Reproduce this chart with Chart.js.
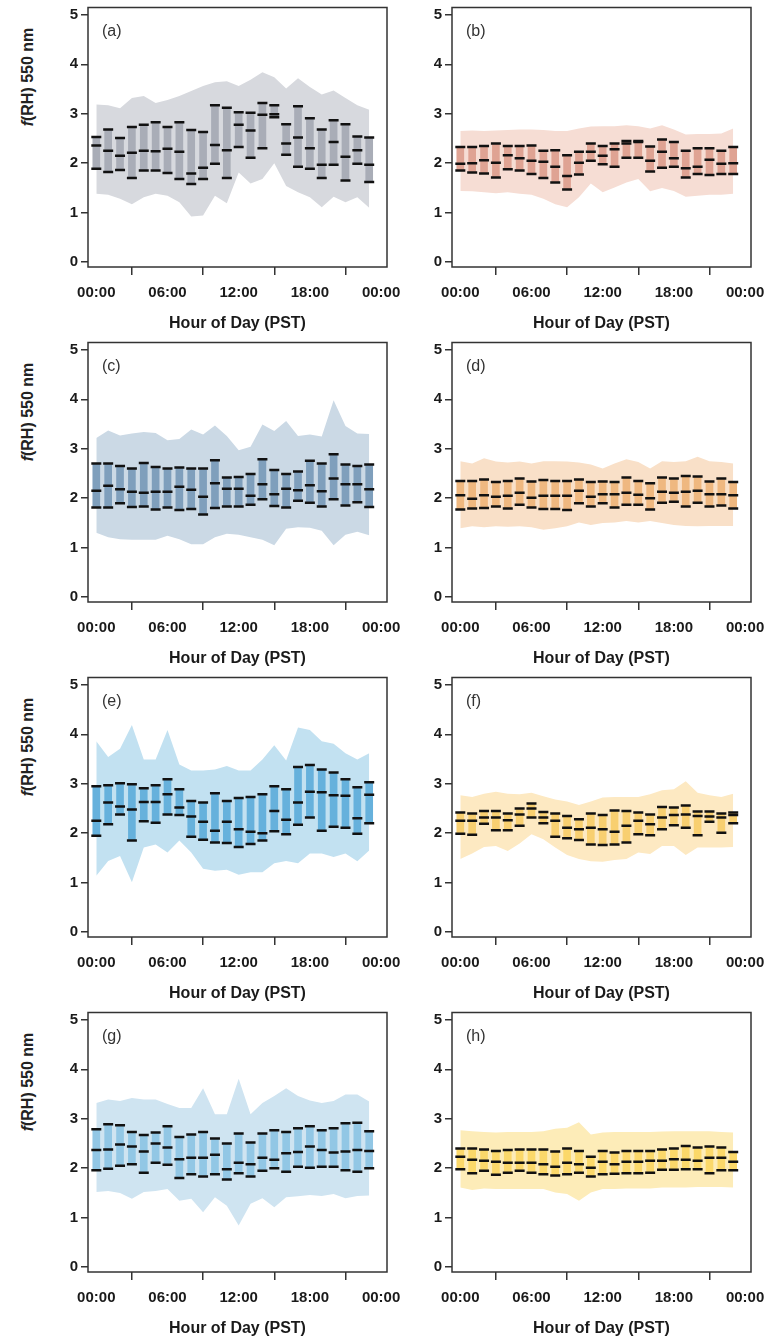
<!DOCTYPE html>
<html>
<head>
<meta charset="utf-8">
<script src="https://cdn.jsdelivr.net/npm/chart.js@4.4.0/dist/chart.umd.min.js"></script>
<style>
  body { margin: 0; background: #fff; width: 767px; height: 1339px; position: relative; overflow: hidden; }
  canvas { position: absolute; }
  .ylab { position: absolute; font: bold 16px "Liberation Sans", Arial, sans-serif; color: #222;
          white-space: nowrap; transform: translate(-50%, -50%) rotate(-90deg); }
</style>
</head>
<body>
<script>
// hours of day (bar positions) and axis ticks
const hours = [0,1,2,3,4,5,6,7,8,9,10,11,12,13,14,15,16,17,18,19,20,21,22,23];
const yTicks = [0, 1, 2, 3, 4, 5];
const xTicks = [0, 6, 12, 18, 24];
const xTickLabels = ['00:00', '06:00', '12:00', '18:00', '00:00'];

// (a)
const a_q75 = [2.53,2.68,2.51,2.73,2.78,2.83,2.73,2.83,2.67,2.63,3.17,3.12,3.03,3.02,3.22,3.17,2.79,3.15,2.91,2.68,2.87,2.79,2.54,2.52];
const a_med = [2.36,2.25,2.15,2.21,2.25,2.24,2.29,2.23,1.79,1.91,2.37,2.26,2.78,2.66,2.98,2.99,2.40,2.52,2.30,1.97,2.43,2.13,2.26,1.97];
const a_q25 = [1.89,1.82,1.86,1.70,1.85,1.85,1.80,1.68,1.58,1.68,1.99,1.70,2.33,2.11,2.30,2.93,2.17,1.93,1.89,1.70,1.97,1.65,1.99,1.62];
const a_max = [3.19,3.17,3.11,3.32,3.36,3.22,3.28,3.36,3.46,3.56,3.64,3.66,3.56,3.69,3.84,3.74,3.51,3.72,3.54,3.39,3.47,3.32,3.17,3.08];
const a_min = [1.38,1.36,1.28,1.17,1.31,1.38,1.34,1.21,0.92,0.94,1.34,1.19,1.81,1.59,1.68,2.00,1.54,1.41,1.31,1.11,1.32,1.21,1.31,1.10];

// (b)
const b_q75 = [2.33,2.33,2.35,2.40,2.35,2.35,2.36,2.25,2.26,2.16,2.23,2.40,2.35,2.40,2.45,2.45,2.34,2.48,2.43,2.25,2.30,2.30,2.25,2.33];
const b_med = [1.99,2.00,2.06,2.01,2.16,2.10,2.05,2.03,1.93,1.74,2.01,2.23,2.15,2.28,2.40,2.43,2.05,2.23,2.10,1.90,1.93,2.07,1.99,2.00];
const b_q25 = [1.85,1.81,1.79,1.71,1.88,1.85,1.78,1.70,1.61,1.47,1.77,2.05,1.98,1.93,2.11,2.11,1.83,1.91,1.93,1.71,1.78,1.76,1.78,1.78];
const b_max = [2.65,2.66,2.65,2.66,2.67,2.68,2.68,2.67,2.65,2.65,2.70,2.74,2.75,2.75,2.77,2.75,2.70,2.77,2.68,2.58,2.59,2.59,2.60,2.70];
const b_min = [1.44,1.43,1.41,1.39,1.41,1.38,1.36,1.28,1.17,1.11,1.31,1.59,1.41,1.51,1.61,1.68,1.43,1.50,1.44,1.32,1.34,1.36,1.36,1.38];

// (c)
const c_q75 = [2.70,2.70,2.65,2.60,2.71,2.63,2.60,2.62,2.60,2.60,2.77,2.42,2.43,2.49,2.79,2.57,2.49,2.54,2.76,2.70,2.89,2.68,2.65,2.68];
const c_med = [2.15,2.25,2.18,2.13,2.11,2.13,2.13,2.23,2.17,2.03,2.30,2.19,2.19,2.05,2.28,2.08,2.19,2.16,2.26,2.14,2.40,2.28,2.28,2.18];
const c_q25 = [1.81,1.81,1.90,1.82,1.83,1.77,1.81,1.76,1.78,1.67,1.80,1.83,1.83,1.87,1.98,1.84,1.81,1.95,1.91,1.83,1.98,1.85,1.92,1.82];
const c_max = [3.22,3.37,3.27,3.31,3.34,3.32,3.17,3.20,3.39,3.29,3.47,3.26,2.97,3.04,3.49,3.36,3.56,3.26,3.29,3.25,3.98,3.46,3.31,3.30];
const c_min = [1.30,1.21,1.17,1.16,1.16,1.16,1.24,1.17,1.07,1.07,1.21,1.28,1.26,1.21,1.16,1.05,1.38,1.41,1.40,1.34,1.05,1.26,1.32,1.25];

// (d)
const d_q75 = [2.35,2.35,2.38,2.33,2.35,2.40,2.34,2.37,2.35,2.35,2.38,2.33,2.34,2.33,2.42,2.35,2.30,2.42,2.40,2.45,2.44,2.34,2.40,2.33];
const d_med = [2.06,1.99,2.06,2.03,2.05,2.11,2.01,2.05,2.05,2.05,2.15,2.03,2.08,2.08,2.11,2.07,2.00,2.13,2.11,2.13,2.15,2.08,2.08,2.06];
const d_q25 = [1.77,1.79,1.80,1.83,1.79,1.87,1.81,1.78,1.78,1.76,1.90,1.83,1.90,1.81,1.87,1.87,1.77,1.91,1.93,1.83,1.91,1.83,1.85,1.79];
const d_max = [2.75,2.70,2.81,2.74,2.72,2.74,2.70,2.75,2.75,2.74,2.72,2.68,2.60,2.70,2.79,2.73,2.60,2.75,2.73,2.75,2.84,2.75,2.73,2.70];
const d_min = [1.39,1.43,1.41,1.43,1.42,1.43,1.41,1.36,1.39,1.43,1.51,1.46,1.50,1.51,1.54,1.51,1.54,1.50,1.46,1.44,1.43,1.44,1.44,1.44];

// (e)
const e_q75 = [2.95,2.97,3.01,2.99,2.91,2.97,3.09,2.89,2.65,2.62,2.81,2.65,2.71,2.73,2.79,2.95,2.89,3.34,3.38,3.29,3.23,3.09,2.93,3.03];
const e_med = [2.25,2.62,2.54,2.48,2.63,2.63,2.79,2.52,2.34,2.23,2.05,2.23,2.08,2.03,2.00,2.45,2.27,2.62,2.84,2.83,2.77,2.76,2.30,2.78];
const e_q25 = [1.95,2.18,2.38,1.85,2.24,2.21,2.38,2.37,1.93,1.87,1.81,1.80,1.72,1.78,1.85,2.04,1.98,2.17,2.32,2.05,2.13,2.11,1.99,2.20];
const e_max = [3.86,3.54,3.71,4.19,3.49,3.49,4.09,3.39,3.27,3.27,3.29,3.36,3.27,3.27,3.49,3.78,3.47,4.14,4.09,3.86,3.81,3.62,3.49,3.62];
const e_min = [1.14,1.44,1.54,1.01,1.71,1.77,1.61,1.85,1.61,1.28,1.24,1.26,1.16,1.21,1.21,1.39,1.44,1.39,1.59,1.59,1.52,1.59,1.43,1.65];

// (f)
const f_q75 = [2.42,2.40,2.45,2.45,2.40,2.50,2.60,2.43,2.40,2.35,2.28,2.40,2.37,2.46,2.45,2.42,2.38,2.53,2.52,2.56,2.44,2.44,2.40,2.42];
const f_med = [2.25,2.25,2.32,2.32,2.26,2.38,2.50,2.32,2.25,2.11,2.08,2.11,2.08,2.03,2.15,2.25,2.18,2.32,2.37,2.38,2.35,2.34,2.32,2.37];
const f_q25 = [1.99,1.97,2.19,2.06,2.06,2.15,2.32,2.20,1.93,1.90,1.86,1.77,1.76,1.77,1.81,1.98,1.96,2.08,2.16,2.11,1.96,2.23,2.01,2.20];
const f_max = [2.77,2.73,2.80,2.84,2.80,2.79,2.82,2.75,2.68,2.64,2.57,2.64,2.72,2.73,2.73,2.73,2.79,2.87,2.89,3.05,2.82,2.77,2.73,2.80];
const f_min = [1.48,1.59,1.72,1.74,1.64,1.79,1.98,1.88,1.71,1.56,1.48,1.43,1.42,1.46,1.48,1.61,1.58,1.74,1.74,1.56,1.71,1.71,1.71,1.72];

// (g)
const g_q75 = [2.79,2.89,2.87,2.73,2.67,2.72,2.85,2.63,2.68,2.73,2.60,2.50,2.70,2.52,2.70,2.77,2.73,2.81,2.85,2.77,2.81,2.91,2.92,2.75];
const g_med = [2.37,2.38,2.48,2.44,2.34,2.50,2.42,2.18,2.21,2.21,2.27,1.98,2.11,2.08,2.21,2.17,2.30,2.33,2.44,2.37,2.32,2.34,2.37,2.35];
const g_q25 = [1.96,1.99,2.05,2.08,1.91,2.11,2.07,1.80,1.88,1.83,1.88,1.77,1.90,1.83,1.95,2.00,1.93,2.03,2.01,2.03,2.03,1.96,1.93,2.00];
const g_max = [3.32,3.39,3.36,3.42,3.39,3.39,3.30,3.22,3.22,3.62,3.09,3.09,3.81,3.09,3.32,3.46,3.62,3.46,3.37,3.32,3.36,3.49,3.49,3.35];
const g_min = [1.52,1.54,1.50,1.38,1.52,1.54,1.58,1.34,1.38,1.11,1.41,1.24,0.84,1.28,1.39,1.21,1.41,1.43,1.46,1.44,1.48,1.39,1.44,1.45];

// (h)
const h_q75 = [2.40,2.40,2.38,2.35,2.37,2.38,2.38,2.38,2.34,2.40,2.35,2.23,2.35,2.32,2.35,2.35,2.35,2.38,2.40,2.45,2.42,2.44,2.42,2.33];
const h_med = [2.23,2.17,2.15,2.13,2.11,2.11,2.11,2.08,2.03,2.11,2.08,2.01,2.13,2.08,2.13,2.13,2.15,2.15,2.18,2.17,2.15,2.21,2.21,2.13];
const h_q25 = [1.98,1.90,1.95,1.87,1.91,1.95,1.91,1.88,1.85,1.88,1.91,1.83,1.88,1.89,1.90,1.90,1.91,1.97,1.97,1.98,1.98,1.90,1.96,1.96];
const h_max = [2.77,2.75,2.73,2.72,2.73,2.73,2.73,2.75,2.80,2.82,2.93,2.68,2.72,2.73,2.73,2.73,2.73,2.74,2.75,2.75,2.75,2.75,2.73,2.72];
const h_min = [1.61,1.56,1.59,1.58,1.58,1.58,1.58,1.58,1.51,1.48,1.34,1.51,1.58,1.58,1.59,1.59,1.59,1.61,1.61,1.61,1.62,1.62,1.62,1.61];

const panels = [
  { tag: 'a', row: 0, col: 0, q75: a_q75, med: a_med, q25: a_q25, max: a_max, min: a_min, band: '#d7d9de', bar: '#a9adb7' },
  { tag: 'b', row: 0, col: 1, q75: b_q75, med: b_med, q25: b_q25, max: b_max, min: b_min, band: '#f6ddd4', bar: '#dfa393' },
  { tag: 'c', row: 1, col: 0, q75: c_q75, med: c_med, q25: c_q25, max: c_max, min: c_min, band: '#cbd9e5', bar: '#7f9fbc' },
  { tag: 'd', row: 1, col: 1, q75: d_q75, med: d_med, q25: d_q25, max: d_max, min: d_min, band: '#f9e0c8', bar: '#efb880' },
  { tag: 'e', row: 2, col: 0, q75: e_q75, med: e_med, q25: e_q25, max: e_max, min: e_min, band: '#c2e1f1', bar: '#66b1dc' },
  { tag: 'f', row: 2, col: 1, q75: f_q75, med: f_med, q25: f_q25, max: f_max, min: f_min, band: '#fde9c2', bar: '#f8cf70' },
  { tag: 'g', row: 3, col: 0, q75: g_q75, med: g_med, q25: g_q25, max: g_max, min: g_min, band: '#cfe4f1', bar: '#92c7e5' },
  { tag: 'h', row: 3, col: 1, q75: h_q75, med: h_med, q25: h_q25, max: h_max, min: h_min, band: '#fdecb8', bar: '#fbd86a' }
];

Chart.defaults.font.family = '"Liberation Sans", Arial, sans-serif';
Chart.defaults.color = '#1a1a1a';

const FONT_TICK = { size: 15, weight: 'bold' };
const FONT_TITLE = { size: 16, weight: 'bold' };

// box around the plot area
const framePlugin = {
  id: 'frame',
  afterDraw(chart) {
    const { ctx, chartArea: { left, top, right, bottom } } = chart;
    ctx.save();
    ctx.strokeStyle = '#333';
    ctx.lineWidth = 1.5;
    ctx.strokeRect(left, top, right - left, bottom - top);
    ctx.restore();
  }
};

// "(a)" style tag in the top left corner
const tagPlugin = {
  id: 'panelTag',
  afterDraw(chart, args, opts) {
    const { ctx, chartArea: { left, top } } = chart;
    ctx.save();
    ctx.font = '16px "Liberation Sans", Arial, sans-serif';
    ctx.fillStyle = '#333';
    ctx.textBaseline = 'middle';
    ctx.fillText(opts.text, left + 14, top + 24);
    ctx.restore();
  }
};

const pts = arr => arr.map((v, i) => ({ x: hours[i], y: v }));

function dashSet(arr) {
  return {
    type: 'line', data: pts(arr), showLine: false, order: 1,
    pointStyle: 'line', pointRadius: 5, pointBorderWidth: 2.5,
    pointBorderColor: '#111', pointBackgroundColor: '#111'
  };
}

panels.forEach(p => {
  const cv = document.createElement('canvas');
  cv.width = 364;
  cv.height = 335;
  cv.style.left = (p.col === 0 ? 38 : 402) + 'px';
  cv.style.top = (p.row * 335) + 'px';
  document.body.appendChild(cv);

  if (p.col === 0) {
    const lab = document.createElement('div');
    lab.className = 'ylab';
    lab.innerHTML = '<i>f</i>(RH) 550 nm';
    lab.style.left = '28px';
    lab.style.top = (77 + p.row * 335) + 'px';
    document.body.appendChild(lab);
  }

  new Chart(cv, {
    type: 'line',
    data: {
      datasets: [
        { data: pts(p.max), fill: '+1', backgroundColor: p.band, borderColor: 'rgba(0,0,0,0)',
          borderWidth: 0, pointRadius: 0, tension: 0, order: 3 },
        { data: pts(p.min), fill: false, borderColor: 'rgba(0,0,0,0)',
          borderWidth: 0, pointRadius: 0, tension: 0, order: 3 },
        { type: 'bar', data: hours.map((h, i) => ({ x: h, y: [p.q25[i], p.q75[i]] })),
          backgroundColor: p.bar, borderWidth: 0, barThickness: 7, order: 2 },
        dashSet(p.q75),
        dashSet(p.med),
        dashSet(p.q25)
      ]
    },
    options: {
      responsive: false,
      animation: false,
      devicePixelRatio: 1,
      events: [],
      layout: { padding: { top: 6, right: 15, left: 0, bottom: 0 } },
      plugins: {
        legend: { display: false },
        tooltip: { enabled: false },
        panelTag: { text: '(' + p.tag + ')' }
      },
      scales: {
        x: {
          type: 'linear', min: -0.7, max: 24.5, offset: false,
          afterBuildTicks: s => { s.ticks = xTicks.map(v => ({ value: v })); },
          afterFit: s => { s.height = 68; s.paddingLeft = 0; s.paddingRight = 0; },
          ticks: { autoSkip: false, maxRotation: 0, padding: 9, font: FONT_TICK, color: '#1a1a1a',
                   callback: (v, i) => xTickLabels[i] },
          grid: { drawOnChartArea: false, drawTicks: true, tickLength: 8, color: '#333', lineWidth: 1.5 },
          border: { display: false },
          title: { display: true, text: 'Hour of Day (PST)', font: FONT_TITLE, color: '#1a1a1a',
                   padding: { top: 0, bottom: 2 } }
        },
        y: {
          min: -0.1, max: 5.15,
          afterBuildTicks: s => { s.ticks = yTicks.map(v => ({ value: v })); },
          afterFit: s => { s.width = 50; s.paddingTop = 0; s.paddingBottom = 0; },
          ticks: { padding: 3, font: FONT_TICK, color: '#1a1a1a' },
          grid: { drawOnChartArea: false, drawTicks: true, tickLength: 7, color: '#333', lineWidth: 1.5 },
          border: { display: false }
        }
      }
    },
    plugins: [framePlugin, tagPlugin]
  });
});
</script>
</body>
</html>
